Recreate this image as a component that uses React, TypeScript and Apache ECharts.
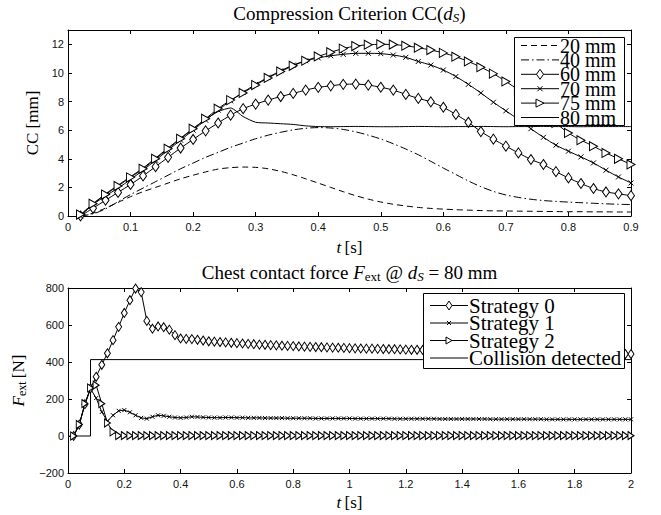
import React, { useEffect, useRef } from "react";
import * as echarts from "echarts";

// ---------- Top plot: Compression Criterion ----------
const topT: number[] = Array.from({ length: 45 }, (_, i) => Math.round((i + 1) * 2) / 100);
const topXTicks = [0, 0.1, 0.2, 0.3, 0.4, 0.5, 0.6, 0.7, 0.8, 0.9];
const topYTicks = [0, 2, 4, 6, 8, 10, 12];

const cc20 = [0, 0.2, 0.55, 0.95, 1.35, 1.7, 2.0, 2.3, 2.6, 2.85, 3.08, 3.28, 3.38, 3.42, 3.4, 3.3, 3.12, 2.88, 2.6, 2.3, 2.0, 1.7, 1.42, 1.18, 0.98, 0.82, 0.7, 0.6, 0.53, 0.48, 0.44, 0.41, 0.38, 0.36, 0.35, 0.34, 0.33, 0.32, 0.31, 0.3, 0.3, 0.29, 0.29, 0.28, 0.28];
const cc40 = [0, 0.15, 0.5, 1.0, 1.5, 1.95, 2.4, 2.85, 3.3, 3.7, 4.1, 4.45, 4.8, 5.1, 5.4, 5.65, 5.85, 6.02, 6.13, 6.18, 6.15, 6.05, 5.88, 5.65, 5.38, 5.05, 4.68, 4.28, 3.82, 3.35, 2.9, 2.45, 2.05, 1.72, 1.47, 1.3, 1.17, 1.08, 1.02, 0.97, 0.93, 0.89, 0.85, 0.82, 0.8];
const cc60 = [0, 0.55, 1.1, 1.65, 2.2, 2.8, 3.45, 4.1, 4.75, 5.35, 5.95, 6.5, 7.05, 7.5, 7.82, 8.1, 8.35, 8.57, 8.8, 8.99, 9.1, 9.2, 9.22, 9.15, 9.0, 8.8, 8.5, 8.22, 7.98, 7.6, 7.1, 6.55, 5.9, 5.37, 4.88, 4.41, 3.95, 3.6, 3.1, 2.66, 2.27, 1.92, 1.68, 1.55, 1.42];
const cc70 = [0, 0.8, 1.4, 1.95, 2.55, 3.2, 3.9, 4.6, 5.3, 6.0, 6.7, 7.4, 8.05, 8.65, 9.2, 9.7, 10.15, 10.55, 10.85, 11.05, 11.2, 11.3, 11.37, 11.37, 11.35, 11.25, 11.09, 10.8, 10.55, 10.2, 9.75, 9.2, 8.6, 7.95, 7.35, 6.75, 6.1, 5.5, 4.95, 4.53, 4.13, 3.71, 3.2, 2.73, 2.31];
const cc75 = [0.1, 0.85, 1.5, 2.1, 2.7, 3.3, 4.0, 4.7, 5.4, 6.1, 6.8, 7.5, 8.1, 8.6, 9.15, 9.65, 10.1, 10.5, 10.85, 11.15, 11.45, 11.7, 11.88, 11.97, 12.0, 11.98, 11.9, 11.76, 11.6, 11.4, 11.13, 10.8, 10.4, 9.95, 9.4, 8.8, 8.05, 7.25, 6.5, 5.8, 5.3, 4.88, 4.41, 4.0, 3.6];
const cc80 = [0.05, 0.85, 1.55, 2.15, 2.75, 3.35, 4.05, 4.75, 5.45, 6.1, 6.75, 7.3, 7.55, 6.95, 6.55, 6.5, 6.45, 6.4, 6.3, 6.25, 6.24, 6.25, 6.26, 6.25, 6.24, 6.24, 6.25, 6.26, 6.25, 6.24, 6.25, 6.25, 6.26, 6.25, 6.24, 6.25, 6.25, 6.26, 6.25, 6.25, 6.24, 6.25, 6.25, 6.25, 6.25];

// ---------- Bottom plot: chest contact force ----------
const botT: number[] = Array.from({ length: 100 }, (_, i) => Math.round((i + 1) * 2) / 100);
const botXTicks = [0, 0.2, 0.4, 0.6, 0.8, 1, 1.2, 1.4, 1.6, 1.8, 2];
const botYTicks = [-200, 0, 200, 400, 600, 800];

const strategy0 = [0, 62, 172, 258, 320, 385, 447, 518, 590, 665, 734, 797, 778, 622, 580, 592, 588, 575, 545, 527,
  525, 524, 520, 516, 512, 510, 508, 506, 504, 502, 500, 498, 496, 494, 493, 491, 490, 488, 487, 486,
  484, 483, 482, 481, 480, 479, 478, 477, 476, 475, 474, 473, 472, 472, 471, 470, 469, 469, 468, 467,
  466, 466, 465, 464, 464, 463, 462, 462, 461, 460, 460, 459, 458, 458, 457, 456, 456, 455, 455, 454,
  453, 453, 452, 452, 451, 450, 450, 449, 449, 448, 447, 447, 446, 446, 445, 445, 444, 444, 443, 443];
const strategy1 = [0, 62, 170, 255, 205, 130, 80, 112, 136, 140, 128, 112, 98, 94, 104, 112, 109, 104, 100, 98,
  100, 104, 103, 101, 100, 99, 99, 100, 100, 99, 99, 98, 98, 98, 97, 97, 97, 97, 96, 96,
  96, 96, 96, 95, 95, 95, 95, 95, 95, 95, 94, 94, 94, 94, 94, 94, 94, 93, 93, 93,
  93, 93, 93, 93, 93, 92, 92, 92, 92, 92, 92, 92, 92, 92, 91, 91, 91, 91, 91, 91,
  91, 91, 91, 91, 90, 90, 90, 90, 90, 90, 90, 90, 90, 90, 90, 90, 90, 90, 90, 90];
const strategy2 = [0, 62, 175, 260, 275, 175, 70, 22, 2, 2, 2, 2, 2, 2, 2, 2, 2, 2, 2, 2,
  2, 2, 2, 2, 2, 2, 2, 2, 2, 2, 2, 2, 2, 2, 2, 2, 2, 2, 2, 2,
  2, 2, 2, 2, 2, 2, 2, 2, 2, 2, 2, 2, 2, 2, 2, 2, 2, 2, 2, 2,
  2, 2, 2, 2, 2, 2, 2, 2, 2, 2, 2, 2, 2, 2, 2, 2, 2, 2, 2, 2,
  2, 2, 2, 2, 2, 2, 2, 2, 2, 2, 2, 2, 2, 2, 2, 2, 2, 2, 2, 2];
const collisionT = [0, 0.08, 0.08, 2];
const collisionF = [0, 0, 413, 413];

const topLegend = ["20 mm", "40 mm", "60 mm", "70 mm", "75 mm", "80 mm"];
const botLegend = ["Strategy 0", "Strategy 1", "Strategy 2", "Collision detected"];

// line style / marker kind per legend entry (styles, not data)
const topKinds = [
  { dash: [6, 4], mark: "none" },
  { dash: [8, 3, 1.5, 3], mark: "none" },
  { dash: null, mark: "diamond" },
  { dash: null, mark: "x" },
  { dash: null, mark: "tri" },
  { dash: null, mark: "none" },
];
const botKinds = [
  { dash: null, mark: "diamond" },
  { dash: null, mark: "x" },
  { dash: null, mark: "tri" },
  { dash: null, mark: "none" },
];

const SERIF = '"Liberation Serif", "Times New Roman", serif';
const SANS = '"Liberation Sans", Arial, Helvetica, sans-serif';
const X_SYM = "path://M0 0L10 10M10 0L0 10";
const TRI_SYM = "path://M0 0L10 5L0 10Z";

const pair = (t: number[], v: number[]) => t.map((x, i) => [x, v[i]]);

function richSet(size: number, lh: number) {
  const sub = Math.round(size * 0.7);
  const base = { fontFamily: SERIF, color: "#000", fontWeight: "normal" };
  return {
    n: { ...base, fontSize: size, lineHeight: lh },
    i: { ...base, fontSize: size, fontStyle: "italic", lineHeight: lh },
    s: { ...base, fontSize: sub, lineHeight: lh * 0.45, verticalAlign: "bottom" },
    si: { ...base, fontSize: sub, fontStyle: "italic", lineHeight: lh * 0.45, verticalAlign: "bottom" },
  };
}

function axes(gridIndex: number, min: number, max: number, interval: number, kind: "x" | "y", opts: any = {}) {
  const common = {
    type: "value",
    gridIndex,
    min,
    max,
    interval,
    splitLine: { show: false },
    axisLine: { show: true, onZero: false, lineStyle: { color: "#000", width: 1 } },
    axisTick: { show: true, inside: true, length: 4, lineStyle: { color: "#000", width: 1 } },
  };
  const main = {
    ...common,
    position: kind === "x" ? "bottom" : "left",
    axisLabel: {
      show: true,
      fontFamily: SANS,
      fontSize: 11,
      color: "#111",
      margin: kind === "x" ? 5 : 4,
      showMaxLabel: opts.showMaxLabel !== undefined ? opts.showMaxLabel : true,
      formatter: (v: number) => String(Math.round(v * 100) / 100).replace("-", "\u2212"),
    },
    name: opts.name,
    nameLocation: "middle",
    nameGap: opts.nameGap,
    nameTextStyle: { rich: richSet(17, 20) },
  };
  const sec = {
    ...common,
    position: kind === "x" ? "top" : "right",
    axisLabel: { show: false },
  };
  return [main, sec];
}

// Legend drawn with graphic elements
function legendGraphic(
  names: string[], kinds: any[], box: { x: number; y: number; w: number; h: number },
  firstY: number, step: number, lineX0: number, lineX1: number, fontSize: number,
  mk: { dw: number; dh: number; x: number; tw: number; th: number }
) {
  const els: any[] = [
    {
      type: "rect", z: 100,
      shape: { x: box.x + 0.5, y: box.y + 0.5, width: box.w, height: box.h },
      style: { fill: "#fff", stroke: "#000", lineWidth: 1 },
    },
  ];
  names.forEach((name, i) => {
    const y = firstY + i * step;
    const cx = (lineX0 + lineX1) / 2;
    const k = kinds[i];
    els.push({
      type: "line", z: 101,
      shape: { x1: lineX0, y1: y, x2: lineX1, y2: y },
      style: { stroke: "#000", lineWidth: 1, lineDash: k.dash || undefined },
    });
    if (k.mark === "diamond") {
      els.push({
        type: "polygon", z: 102,
        shape: { points: [[cx, y - mk.dh / 2], [cx + mk.dw / 2, y], [cx, y + mk.dh / 2], [cx - mk.dw / 2, y]] },
        style: { fill: "#fff", stroke: "#000", lineWidth: 1 },
      });
    } else if (k.mark === "x") {
      const r = mk.x / 2;
      els.push({ type: "line", z: 102, shape: { x1: cx - r, y1: y - r, x2: cx + r, y2: y + r }, style: { stroke: "#000", lineWidth: 1 } });
      els.push({ type: "line", z: 102, shape: { x1: cx - r, y1: y + r, x2: cx + r, y2: y - r }, style: { stroke: "#000", lineWidth: 1 } });
    } else if (k.mark === "tri") {
      els.push({
        type: "polygon", z: 102,
        shape: { points: [[cx - mk.tw / 2, y - mk.th / 2], [cx + mk.tw / 2, y], [cx - mk.tw / 2, y + mk.th / 2]] },
        style: { fill: "#fff", stroke: "#000", lineWidth: 1 },
      });
    }
    els.push({
      type: "text", z: 102,
      x: lineX1 + 1, y: y,
      style: {
        text: name, fill: "#000", fontFamily: SERIF, fontSize, align: "left", verticalAlign: "middle",
      },
    });
  });
  return els;
}

export default function App() {
  const ref = useRef<HTMLDivElement>(null);
  useEffect(() => {
    document.body.style.margin = "0";
    if (!ref.current) return;
    const chart = echarts.init(ref.current, undefined, { renderer: "svg" });

    const lineBase = { type: "line", smooth: false, animation: false, emphasis: { disabled: true } };
    const hollow = { color: "#fff", borderColor: "#000", borderWidth: 1 };

    const xTop = axes(0, topXTicks[0], topXTicks[topXTicks.length - 1], 0.1, "x", {
      name: "{i|t} {n|[s]}", nameGap: 21,
    });
    const yTop = axes(0, topYTicks[0], 13, 2, "y", {
      name: "{n|CC [mm]}", nameGap: 24, showMaxLabel: false,
    });
    const xBot = axes(1, botXTicks[0], botXTicks[botXTicks.length - 1], 0.2, "x", {
      name: "{i|t} {n|[s]}", nameGap: 19,
    });
    const yBot = axes(1, botYTicks[0], botYTicks[botYTicks.length - 1], 200, "y", {
      name: "{i|F}{s|ext} {n|[N]}", nameGap: 38,
    });

    const graphic = [
      ...legendGraphic(topLegend, topKinds, { x: 514, y: 37, w: 110, h: 88 }, 45.5, 14.4, 521, 559, 20,
        { dw: 7, dh: 10, x: 5, tw: 8, th: 8 }),
      ...legendGraphic(botLegend, botKinds, { x: 423, y: 293, w: 201, h: 75 }, 305.5, 17.5, 430, 468, 21,
        { dw: 6, dh: 9, x: 4, tw: 6, th: 7 }),
    ];

    const option: any = {
      animation: false,
      backgroundColor: "#fff",
      title: [
        {
          text: "{n|Compression Criterion CC(}{i|d}{si|S}{n|)}",
          left: 349.5,
          top: 2,
          padding: 0,
          textAlign: "center",
          textStyle: { fontWeight: "normal", rich: richSet(19, 22) },
        },
        {
          text: "{n|Chest contact force }{i|F}{s|ext}{n| @ }{i|d}{si|S}{n| = 80 mm}",
          left: 349.5,
          top: 261,
          padding: 0,
          textAlign: "center",
          textStyle: { fontWeight: "normal", rich: richSet(19, 22) },
        },
      ],
      grid: [
        { left: 68, top: 30, width: 563, height: 186, outerBoundsMode: "none", containLabel: false },
        { left: 68, top: 288, width: 563, height: 185, outerBoundsMode: "none", containLabel: false },
      ],
      xAxis: [...xTop, ...xBot],
      yAxis: [...yTop, ...yBot],
      graphic,
      series: [
        {
          ...lineBase, name: topLegend[0], xAxisIndex: 0, yAxisIndex: 0, data: pair(topT, cc20), smooth: 0.3,
          symbol: "none", lineStyle: { color: "#000", width: 1, type: [6, 4] },
        },
        {
          ...lineBase, name: topLegend[1], xAxisIndex: 0, yAxisIndex: 0, data: pair(topT, cc40), smooth: 0.3,
          symbol: "none", lineStyle: { color: "#000", width: 1, type: [8, 3, 1.5, 3] },
        },
        {
          ...lineBase, name: topLegend[2], xAxisIndex: 0, yAxisIndex: 0, data: pair(topT, cc60), smooth: 0.3,
          symbol: "diamond", symbolSize: [7, 10], showAllSymbol: true,
          lineStyle: { color: "#000", width: 1 }, itemStyle: hollow,
        },
        {
          ...lineBase, name: topLegend[3], xAxisIndex: 0, yAxisIndex: 0, data: pair(topT, cc70), smooth: 0.3,
          symbol: X_SYM, symbolSize: [5, 5], showAllSymbol: true,
          lineStyle: { color: "#000", width: 1 }, itemStyle: hollow,
        },
        {
          ...lineBase, name: topLegend[4], xAxisIndex: 0, yAxisIndex: 0, data: pair(topT, cc75), smooth: 0.3,
          symbol: TRI_SYM, symbolSize: [8, 9], showAllSymbol: true,
          lineStyle: { color: "#000", width: 1 }, itemStyle: hollow,
        },
        {
          ...lineBase, name: topLegend[5], xAxisIndex: 0, yAxisIndex: 0, data: pair(topT, cc80), smooth: 0.2,
          symbol: "none", lineStyle: { color: "#000", width: 1 },
        },
        {
          ...lineBase, name: botLegend[0], xAxisIndex: 2, yAxisIndex: 2, data: pair(botT, strategy0),
          symbol: "diamond", symbolSize: [6, 9], showAllSymbol: true,
          lineStyle: { color: "#000", width: 1 }, itemStyle: hollow,
        },
        {
          ...lineBase, name: botLegend[1], xAxisIndex: 2, yAxisIndex: 2, data: pair(botT, strategy1),
          symbol: X_SYM, symbolSize: [4, 4], showAllSymbol: true,
          lineStyle: { color: "#000", width: 1 }, itemStyle: hollow,
        },
        {
          ...lineBase, name: botLegend[2], xAxisIndex: 2, yAxisIndex: 2, data: pair(botT, strategy2),
          symbol: TRI_SYM, symbolSize: [6, 8], showAllSymbol: true,
          lineStyle: { color: "#000", width: 1 }, itemStyle: hollow,
        },
        {
          ...lineBase, name: botLegend[3], xAxisIndex: 2, yAxisIndex: 2, data: pair(collisionT, collisionF),
          symbol: "none", lineStyle: { color: "#000", width: 1 },
        },
      ],
    };
    chart.setOption(option);
    return () => chart.dispose();
  }, []);
  return <div ref={ref} style={{ width: 661, height: 515 }} />;
}
